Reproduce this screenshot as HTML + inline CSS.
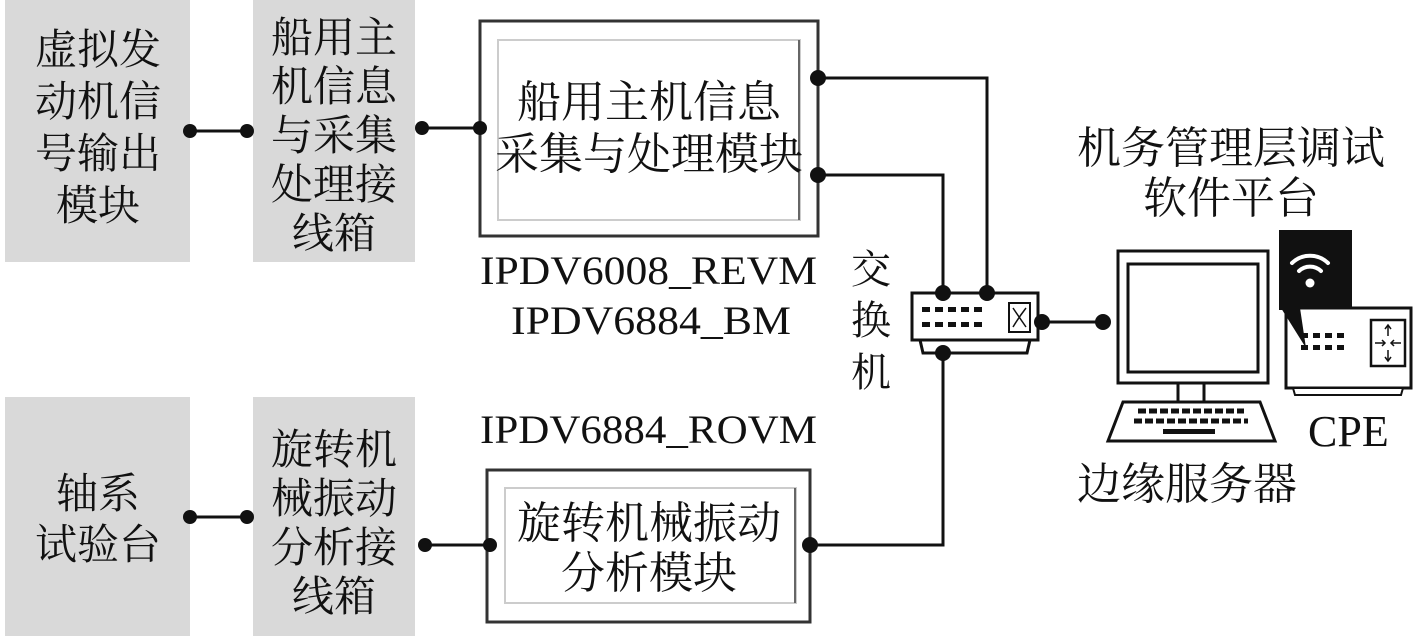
<!DOCTYPE html>
<html><head><meta charset="utf-8"><style>
html,body{margin:0;padding:0;background:#fff}
svg{display:block}
.c{font-family:"Liberation Serif","Noto Serif CJK SC","Noto Sans CJK SC",serif;fill:#111;font-size:38px}
.g{font-size:42px}
.m{font-size:44px}
</style></head><body>
<svg width="1417" height="636" viewBox="0 0 1417 636" xmlns="http://www.w3.org/2000/svg">
<rect x="5" y="0" width="185" height="262" fill="#d9d9d9"/>
<rect x="253" y="0" width="162" height="262" fill="#d9d9d9"/>
<rect x="5" y="397" width="185" height="239" fill="#d9d9d9"/>
<rect x="253" y="397" width="162" height="239" fill="#d9d9d9"/>
<g class="c g" text-anchor="middle">
<text x="98" y="64">虚拟发</text><text x="98" y="116">动机信</text><text x="98" y="168">号输出</text><text x="98" y="220">模块</text>
<text x="334" y="52">船用主</text><text x="334" y="101">机信息</text><text x="334" y="150">与采集</text><text x="334" y="199">处理接</text><text x="334" y="248">线箱</text>
<text x="98" y="508">轴系</text><text x="98" y="559">试验台</text>
<text x="334" y="464">旋转机</text><text x="334" y="513">械振动</text><text x="334" y="562">分析接</text><text x="334" y="611">线箱</text>
</g>
<rect x="480" y="21" width="338" height="215" fill="#fff" stroke="#333" stroke-width="3"/>
<rect x="498" y="40" width="302" height="180" fill="#fff" stroke="#ccc" stroke-width="2"/>
<line x1="799" y1="40" x2="799" y2="220" stroke="#666" stroke-width="2"/>
<g class="c m" text-anchor="middle">
<text x="649" y="117">船用主机信息</text><text x="649" y="169">采集与处理模块</text>
</g>
<rect x="487" y="470" width="323" height="152" fill="#fff" stroke="#333" stroke-width="3"/>
<rect x="505" y="488" width="291" height="115" fill="#fff" stroke="#ccc" stroke-width="2"/>
<line x1="795" y1="488" x2="795" y2="603" stroke="#666" stroke-width="2"/>
<g class="c m" text-anchor="middle">
<text x="649" y="538">旋转机械振动</text><text x="649" y="588">分析模块</text>
</g>
<g class="c">
<text x="480" y="284" textLength="337" lengthAdjust="spacingAndGlyphs" style="font-size:40px">IPDV6008_REVM</text>
<text x="511" y="334" textLength="280" lengthAdjust="spacingAndGlyphs" style="font-size:40px">IPDV6884_BM</text>
<text x="480" y="443" textLength="337" lengthAdjust="spacingAndGlyphs" style="font-size:40px">IPDV6884_ROVM</text>
<text x="851" y="283" style="font-size:40px">交</text><text x="851" y="334" style="font-size:40px">换</text><text x="851" y="386" style="font-size:40px">机</text>
<text x="1077" y="163" class="m">机务管理层调试</text><text x="1143" y="213" class="m">软件平台</text>
<text x="1077" y="499" class="m">边缘服务器</text>
<text x="1308" y="446" class="m">CPE</text>
</g>
<g stroke="#111" stroke-width="3" fill="none">
<line x1="190" y1="131" x2="247" y2="131"/>
<line x1="422" y1="128" x2="480" y2="128"/>
<polyline points="818,78 987,78 987,293"/>
<polyline points="818,175 943,175 943,293"/>
<polyline points="943,352 943,545 810,545"/>
<line x1="190" y1="517" x2="247" y2="517"/>
<line x1="425" y1="545" x2="490" y2="545"/>
<line x1="1042" y1="322" x2="1103" y2="322"/>
</g>
<g fill="#111">
<circle cx="190" cy="131" r="7"/><circle cx="247" cy="131" r="7"/>
<circle cx="422" cy="128" r="7"/><circle cx="480" cy="128" r="7"/>
<circle cx="818" cy="78" r="8"/><circle cx="818" cy="175" r="8"/>
<circle cx="190" cy="517" r="7"/><circle cx="247" cy="517" r="7"/>
<circle cx="425" cy="545" r="7"/><circle cx="490" cy="545" r="7"/>
<circle cx="810" cy="545" r="8"/>
</g>
<polygon points="920,340 1030,340 1027,353 923,353" fill="#fff" stroke="#111" stroke-width="3"/>
<rect x="912" y="293" width="126" height="47" fill="#fff" stroke="#111" stroke-width="3"/>
<rect x="1009" y="303" width="21" height="29" fill="#fff" stroke="#111" stroke-width="2"/>
<g stroke="#111" stroke-width="1.5" fill="none"><path d="M1013,308 Q1019,317 1026,327"/><path d="M1026,308 Q1019,317 1013,327"/></g>
<g fill="#111">
<rect x="922" y="307" width="8" height="5"/><rect x="935" y="307" width="8" height="5"/><rect x="948" y="307" width="8" height="5"/><rect x="961" y="307" width="8" height="5"/><rect x="974" y="307" width="8" height="5"/>
<rect x="922" y="322" width="8" height="5"/><rect x="935" y="322" width="8" height="5"/><rect x="948" y="322" width="8" height="5"/><rect x="961" y="322" width="8" height="5"/><rect x="974" y="322" width="8" height="5"/>
<circle cx="943" cy="293" r="8"/><circle cx="987" cy="293" r="8"/>
<circle cx="943" cy="353" r="8"/><circle cx="1042" cy="322" r="8"/><circle cx="1103" cy="322" r="8"/>
</g>
<rect x="1118" y="251" width="150" height="132" fill="#fff" stroke="#111" stroke-width="3"/>
<rect x="1128" y="264" width="130" height="108" fill="#fff" stroke="#111" stroke-width="3"/>
<rect x="1178" y="383" width="26" height="19" fill="#fff" stroke="#111" stroke-width="3"/>
<polygon points="1123,402 1260,402 1275,441 1108,441" fill="#fff" stroke="#111" stroke-width="3"/>
<g stroke="#111" stroke-width="5" stroke-dasharray="8,3">
<line x1="1138" y1="411" x2="1244" y2="411"/><line x1="1134" y1="421" x2="1248" y2="421"/>
</g>
<rect x="1163" y="429" width="52" height="5" fill="#111"/>
<rect x="1279" y="230" width="73" height="80" fill="#111"/>
<rect x="1286" y="308" width="125" height="80" fill="#fff" stroke="#111" stroke-width="3"/>
<polygon points="1281,308 1300,308 1306,348" fill="#111"/>
<polygon points="1293,388 1403,388 1401,395 1295,395" fill="#fff" stroke="#111" stroke-width="2"/>
<g fill="none" stroke="#fff" stroke-width="4" stroke-linecap="round">
<path d="M1292,263 A26,26 0 0 1 1328,263"/><path d="M1299,271 A16,16 0 0 1 1321,271"/>
</g>
<circle cx="1310" cy="283" r="4.5" fill="#fff"/>
<g fill="#111">
<rect x="1301" y="333" width="7" height="5"/><rect x="1313" y="333" width="7" height="5"/><rect x="1325" y="333" width="7" height="5"/><rect x="1337" y="333" width="7" height="5"/>
<rect x="1301" y="345" width="7" height="5"/><rect x="1313" y="345" width="7" height="5"/><rect x="1325" y="345" width="7" height="5"/><rect x="1337" y="345" width="7" height="5"/>
</g>
<rect x="1371" y="320" width="34" height="46" fill="#fff" stroke="#111" stroke-width="2.5"/>
<g stroke="#111" stroke-width="1.5" fill="none">
<line x1="1388" y1="325" x2="1388" y2="336"/><line x1="1388" y1="350" x2="1388" y2="361"/>
<line x1="1375" y1="343" x2="1385" y2="343"/><line x1="1391" y1="343" x2="1401" y2="343"/>
<path d="M1385,329 L1388,325 L1391,329"/><path d="M1385,357 L1388,361 L1391,357"/>
<path d="M1382,340 L1385,343 L1382,346"/><path d="M1394,340 L1391,343 L1394,346"/>
</g>
</svg>
</body></html>
